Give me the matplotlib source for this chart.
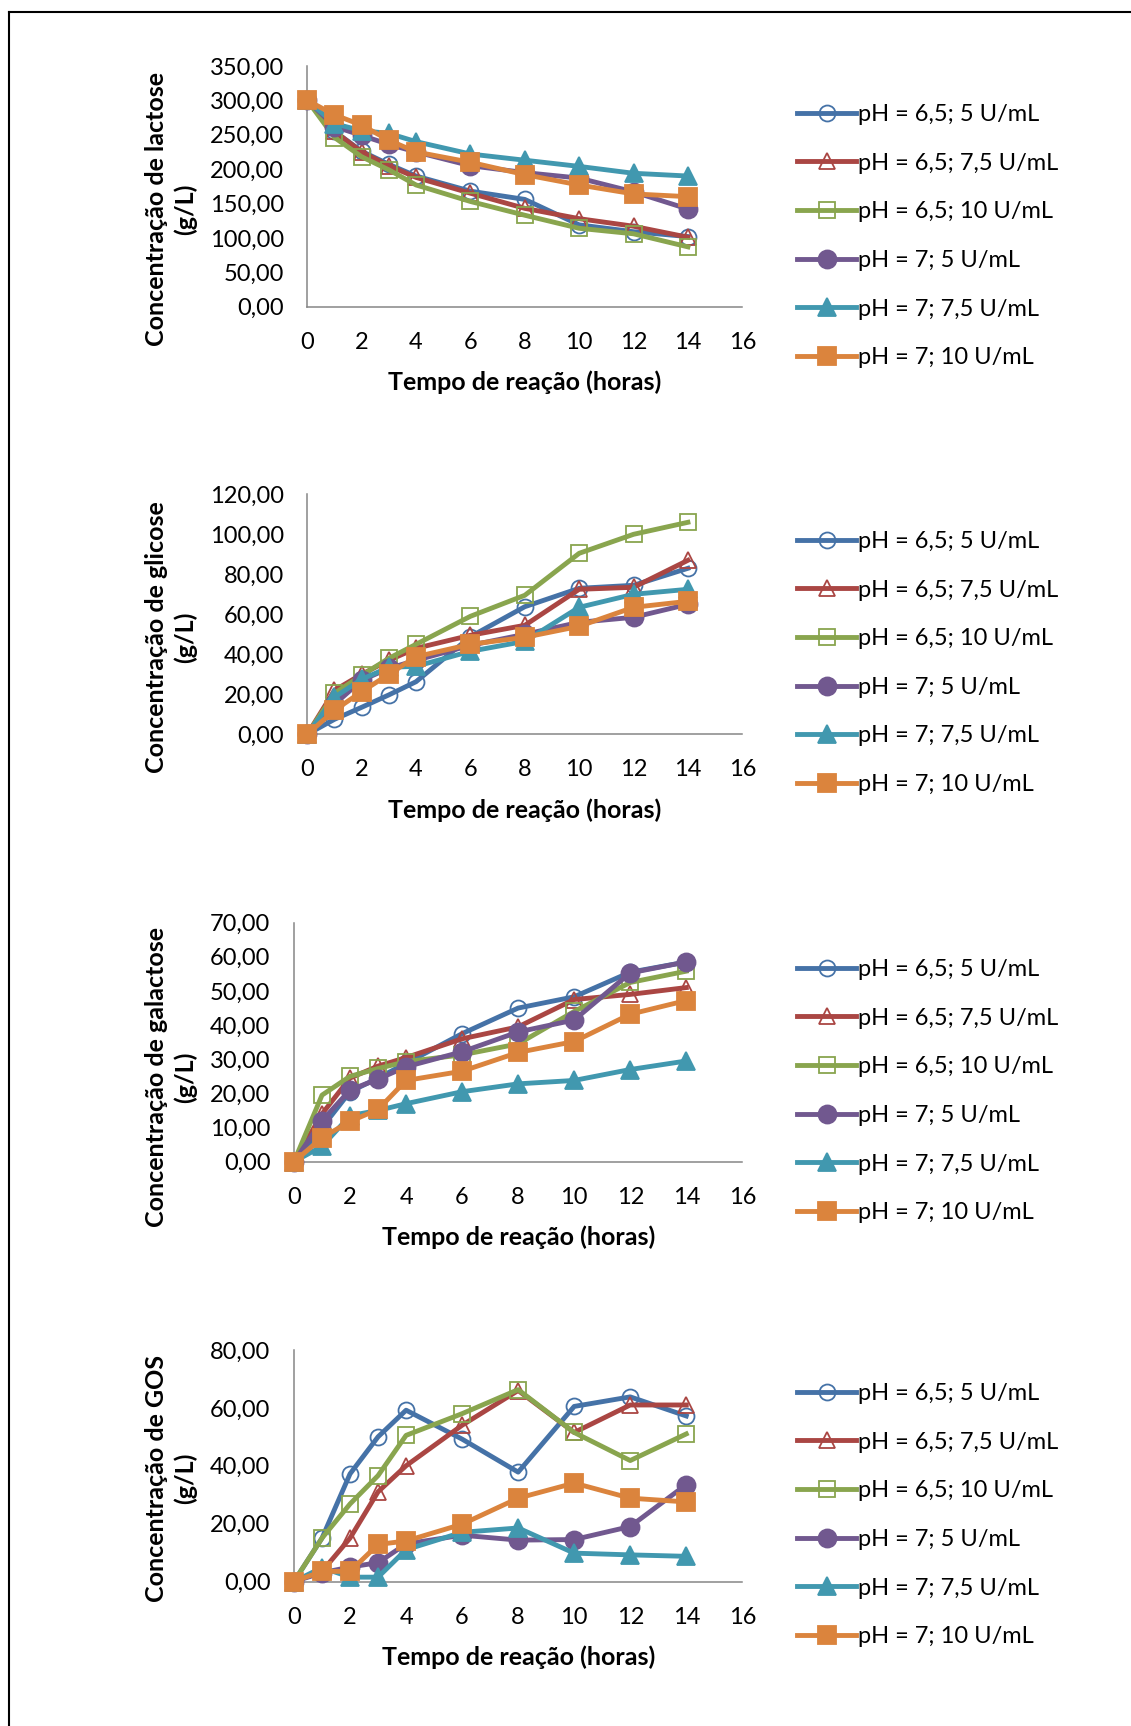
import matplotlib
matplotlib.use("Agg")
from matplotlib import pyplot as plt
from matplotlib.lines import Line2D

plt.rcParams['font.family'] = ['Lato', 'DejaVu Sans']

tempo = [0, 1, 2, 3, 4, 6, 8, 10, 12, 14]
rotulos = ["pH = 6,5; 5 U/mL", "pH = 6,5; 7,5 U/mL", "pH = 6,5; 10 U/mL",
           "pH = 7; 5 U/mL", "pH = 7; 7,5 U/mL", "pH = 7; 10 U/mL"]

# lactose (g/L)
lac_65_5 = [300, 255, 226, 207, 190, 168, 156, 119, 109, 102]
lac_65_75 = [300, 255, 225, 205, 188, 165, 143, 128, 117, 101]
lac_65_10 = [300, 246, 218, 199, 177, 153, 133, 114, 106, 87]
lac_7_5 = [300, 262, 249, 236, 225, 205, 195, 187, 167, 142]
lac_7_75 = [300, 266, 256, 252, 240, 222, 213, 204, 194, 190]
lac_7_10 = [300, 279, 264, 242, 225, 210, 192, 177, 164, 160]

# glicose (g/L)
gli_65_5 = [0, 7.5, 13.5, 19.7, 26.3, 48.8, 63.8, 73, 74.5, 83]
gli_65_75 = [0, 22, 30, 37, 43, 49.5, 54.5, 72.5, 73.5, 87]
gli_65_10 = [0, 20.5, 29.5, 38, 45, 59, 69.5, 90.5, 100, 106]
gli_7_5 = [0, 15, 27, 33, 37, 44.5, 50, 56, 58.5, 65]
gli_7_75 = [0, 18.5, 27.5, 33.5, 34, 41.5, 46.5, 63.5, 70, 72.5]
gli_7_10 = [0, 12, 21.3, 30, 38.8, 45, 48.5, 54, 63.5, 66.5]

# galactose (g/L)
gal_65_5 = [0, 10, 20.5, 24.5, 28.8, 37.5, 45, 48.3, 55.5, 58.5]
gal_65_75 = [0, 14, 24.5, 28, 30.5, 36, 39.5, 47.5, 49, 51]
gal_65_10 = [0, 19.5, 25, 27.3, 29.3, 31.3, 34.5, 44, 52.5, 55.8]
gal_7_5 = [0, 12, 21, 24.2, 27.8, 32.2, 38, 41.5, 55.3, 58.5]
gal_7_75 = [0, 4.5, 13.5, 15, 17, 20.5, 22.8, 23.8, 27, 29.5]
gal_7_10 = [0, 7, 11.8, 15.3, 23.8, 26.5, 32, 35.2, 43.2, 47.2]

# GOS (g/L)
gos_65_5 = [0, 15, 37.2, 50, 59.2, 49.2, 37.8, 60.5, 63.8, 57.2]
gos_65_75 = [0, 3.5, 15, 31, 40, 54, 66, 51.5, 61, 61]
gos_65_10 = [0, 15, 26.8, 36.6, 50.5, 58, 66.3, 51.5, 41.8, 51]
gos_7_5 = [0, 3, 5, 6.5, 13, 16, 14.3, 14.5, 19, 33.5]
gos_7_75 = [0, 4.8, 1.5, 1.5, 11, 17, 18.5, 9.8, 9.2, 8.7]
gos_7_10 = [0, 3.5, 3.5, 12.8, 14, 19.8, 28.8, 34, 28.8, 27.5]

cores = ['#4572A7', '#AA4643', '#89A54E', '#71588F', '#4198AF', '#DB843D']
marcadores = ['o', '^', 's', 'o', '^', 's']
cheio = [False, False, False, True, True, True]
tamanho = [11.5, 12, 11.5, 13, 13, 13]

W, H = 1131, 1726
fig = plt.figure(figsize=(W / 100, H / 100), dpi=100)

# (esquerda, direita, topo, base) em pixels
paineis = [
    ([lac_65_5, lac_65_75, lac_65_10, lac_7_5, lac_7_75, lac_7_10],
     350, 50, "Concentração de lactose\n(g/L)", (307.3, 742.3, 66, 306.7), 209, 525, 382, 104),
    ([gli_65_5, gli_65_75, gli_65_10, gli_7_5, gli_7_75, gli_7_10],
     120, 20, "Concentração de glicose\n(g/L)", (307.3, 742.3, 494.3, 734.3), 637, 525, 810, 531),
    ([gal_65_5, gal_65_75, gal_65_10, gal_7_5, gal_7_75, gal_7_10],
     70, 10, "Concentração de galactose\n(g/L)", (294, 742.3, 922.7, 1161.7), 1077, 519, 1237, 959),
    ([gos_65_5, gos_65_75, gos_65_10, gos_7_5, gos_7_75, gos_7_10],
     80, 20, "Concentração de GOS\n(g/L)", (294, 742.3, 1350, 1581.5), 1478, 519, 1657, 1383),
]

for series, ymax, passo, ylab, (l, r, t, b), ylab_y, xlab_x, xlab_y, leg_top in paineis:
    ax = fig.add_axes([l / W, 1 - b / H, (r - l) / W, (b - t) / H])
    for i, vals in enumerate(series):
        ax.plot(tempo, vals, color=cores[i], lw=3.5, marker=marcadores[i],
                ms=tamanho[i], mec=cores[i], mew=1.3,
                mfc=cores[i] if cheio[i] else 'none',
                label=rotulos[i], clip_on=False, zorder=3 + i)
    ax.set_xlim(0, 16)
    ax.set_ylim(0, ymax)
    ax.set_xticks(range(0, 17, 2))
    yt = list(range(0, ymax + 1, passo))
    ax.set_yticks(yt)
    ax.set_yticklabels([f"{v:.2f}".replace('.', ',') for v in yt])
    ax.tick_params(length=0, labelsize=17)
    ax.tick_params(axis='y', pad=17)
    ax.tick_params(axis='x', pad=18)
    for s in ['top', 'right']:
        ax.spines[s].set_visible(False)
    for s in ['left', 'bottom']:
        ax.spines[s].set_color('#868686')
        ax.spines[s].set_linewidth(1.1)
    fig.text(171 / W, 1 - ylab_y / H, ylab, rotation=90, ha='center', va='center',
             fontsize=18, fontweight='bold', linespacing=1.3, multialignment='center')
    fig.text(xlab_x / W, 1 - xlab_y / H, "Tempo de reação (horas)", ha='center',
             va='center', fontsize=18, fontweight='bold')
    ax.legend(loc='upper left', bbox_to_anchor=(797 / W, 1 - leg_top / H),
              bbox_transform=fig.transFigure, frameon=False, fontsize=17,
              handlelength=2.5, handletextpad=0.1, labelspacing=1.17,
              borderpad=0, borderaxespad=0, numpoints=1)

# moldura
fig.add_artist(Line2D([9 / W, 9 / W], [0, 1 - 12 / H], transform=fig.transFigure,
                      color='black', lw=1.5))
fig.add_artist(Line2D([9 / W, 1], [1 - 12 / H, 1 - 12 / H], transform=fig.transFigure,
                      color='black', lw=1.5))

plt.savefig('out.png', dpi=100)
